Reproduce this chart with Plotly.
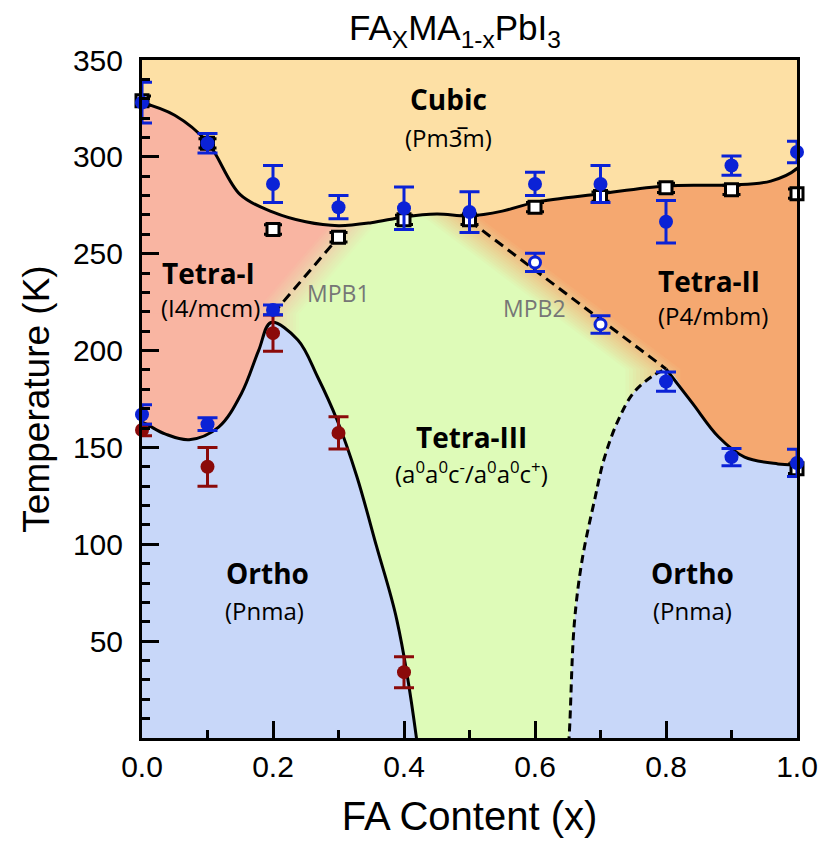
import plotly.graph_objects as go

# ---------------- phase-boundary control points (x = FA fraction, T in K) ----------------
top_x = [-0.05, 0.0, 0.05, 0.10, 0.15, 0.20, 0.25, 0.30, 0.35, 0.40, 0.45, 0.50, 0.55, 0.60, 0.70, 0.80, 0.90, 0.96, 1.0, 1.03]
top_T = [331, 328, 321.5, 307.5, 280.5, 271.5, 266.5, 264.5, 266, 269, 270.5, 269.5, 272, 276.5, 281, 285, 285.5, 287.5, 294, 310]

lowL_x = [-0.05, 0.0, 0.035, 0.072, 0.117, 0.152, 0.178, 0.197, 0.238, 0.268, 0.298, 0.328, 0.358, 0.389, 0.419, 0.425]
lowL_T = [168, 163, 157, 154, 160.5, 178, 200, 214.5, 205.5, 186.5, 164, 135, 99, 61, 0, -20]

rdash_x = [0.645, 0.652, 0.660, 0.672, 0.692, 0.705, 0.725, 0.750, 0.780, 0.800]
rdash_T = [-30, 0, 59, 92, 124.5, 143.5, 162.5, 178, 187, 190.5]

rlow_x = [0.800, 0.840, 0.880, 0.920, 0.971, 1.000, 1.030]
rlow_T = [190.5, 173, 155.5, 145, 141.5, 141, 141]

mpb1_x = [0.2, 0.3]
mpb1_T = [219, 258.5]
mpb2_x = [0.5, 0.8]
mpb2_T = [267, 190.5]

# ---------------- measured transition temperatures ----------------
sq_x = [0.0, 0.1, 0.2, 0.3, 0.4, 0.5, 0.6, 0.7, 0.8, 0.9, 1.0, 1.0]
sq_T = [329, 307, 262.5, 258.5, 267.5, 267.5, 274, 279.5, 284, 283, 281, 139]

blue_x = [0.0, 0.1, 0.2, 0.3, 0.4, 0.5, 0.6, 0.7, 0.8, 0.9, 1.0, 0.0, 0.1, 0.2, 0.8, 0.9, 1.0]
blue_T = [328, 307, 286, 274, 273.5, 271.5, 286, 286, 266.5, 295.5, 302.5, 167, 162, 221, 184, 145, 142]
blue_err = [10.5, 5, 9.5, 6, 11, 10.5, 6, 9.5, 11, 5, 5.5, 5, 3.3, 2.5, 5, 4.5, 7]

open_x = [0.6, 0.7]
open_T = [245.5, 213.5]
open_err = [4.7, 4.5]

red_x = [0.0, 0.1, 0.2, 0.3, 0.4]
red_T = [159, 140, 209, 157.5, 34]
red_err = [3, 10, 9.3, 8.3, 8]

# ---------------- phase labels ----------------
phase_names = ["Cubic", "Tetra-I", "Tetra-II", "Tetra-III", "Ortho", "Ortho"]
phase_groups = ["(Pm3\u0305m)", "(I4/mcm)", "(P4/mbm)",
                "(a<sup>0</sup>a<sup>0</sup>c<sup>-</sup>/a<sup>0</sup>a<sup>0</sup>c<sup>+</sup>)",
                "(Pnma)", "(Pnma)"]
name_x = [0.468, 0.102, 0.866, 0.503, 0.192, 0.84]
name_T = [330, 240, 236, 155.5, 85, 85]
group_x = [0.468, 0.105, 0.872, 0.503, 0.187, 0.84]
group_T = [310, 222, 218, 137, 66, 66]
mpb_names = ["MPB1", "MPB2"]
mpb_lx = [0.30, 0.599]
mpb_lT = [229.7, 222]

# phase colours
C_CUBIC = (253, 224, 165)
C_TET1 = (249, 181, 162)
C_TET2 = (245, 168, 112)
C_TET3 = (222, 251, 184)
C_ORTHO = (200, 215, 249)


def rgb(c):
    return "rgb(%d,%d,%d)" % c


def mix(c1, c2, t):
    return "rgb(%d,%d,%d)" % tuple(round(a + (b - a) * t) for a, b in zip(c1, c2))


fig = go.Figure()


def add_fill(xs, ys, color, shape="linear"):
    fig.add_trace(go.Scatter(x=xs, y=ys, mode="lines", fill="toself", fillcolor=color,
                             line=dict(width=0, shape=shape), hoverinfo="skip", showlegend=False))


# Tetra-I region, blended into Tetra-III across MPB1
N = 16
ax, aT = mpb1_x[0], mpb1_T[0]
k1 = (mpb1_T[1] - mpb1_T[0]) / (mpb1_x[1] - mpb1_x[0])
x_top1 = ax + (400 - aT) / k1
c1, hw1 = 0.005, 0.035
for i in range(N):
    s = c1 + hw1 * (1 - 2 * i / (N - 1))
    add_fill([-0.2, x_top1 + s, ax + s, ax + s, -0.2], [400, 400, aT, -40, -40],
             mix(C_TET3, C_TET1, (i + 1) / N))
add_fill([-0.2, ax, ax, -0.2], [aT, aT, -40, -40], rgb(C_TET1))

# Tetra-II region, blended into Tetra-III across MPB2
cx, cT = mpb2_x[0], mpb2_T[0]
dx, dT = mpb2_x[1], mpb2_T[1]
k2 = (dT - cT) / (dx - cx)
x_top2 = cx + (400 - cT) / k2
c2, hw2 = -0.02, 0.042
for i in range(N):
    s = c2 - hw2 * (1 - 2 * i / (N - 1))
    add_fill([x_top2 + s, 1.2, 1.2, dx + s, dx + s], [400, 400, -40, -40, dT],
             mix(C_TET3, C_TET2, (i + 1) / N))

# Cubic region above the upper boundary
add_fill(top_x + [1.1, -0.1], top_T + [400, 400], rgb(C_CUBIC), "spline")

# Orthorhombic regions
add_fill(lowL_x + [-0.1], lowL_T + [-40], rgb(C_ORTHO), "spline")
add_fill(rdash_x + rlow_x[1:] + [1.1, 1.1], rdash_T + rlow_T[1:] + [141, -40], rgb(C_ORTHO), "spline")


# boundary lines
def add_line(xs, ys, dash="solid", shape="spline"):
    fig.add_trace(go.Scatter(x=xs, y=ys, mode="lines",
                             line=dict(color="black", width=3, shape=shape, dash=dash),
                             hoverinfo="skip", showlegend=False))


add_line(top_x, top_T)
add_line(lowL_x, lowL_T)
add_line(rlow_x, rlow_T)
add_line(rdash_x, rdash_T, dash="8px,5px")
add_line(mpb1_x, mpb1_T, dash="10px,6px", shape="linear")
add_line(mpb2_x, mpb2_T, dash="10px,6px", shape="linear")

BLUE = "#0b22d6"
RED = "#8b0a0a"

# open squares (black)
fig.add_trace(go.Scatter(
    x=sq_x, y=sq_T, mode="markers", cliponaxis=False, showlegend=False,
    marker=dict(symbol="square", size=12, color="white", line=dict(color="black", width=3)),
    error_y=dict(type="constant", value=2.4, color="black", thickness=3, width=9)))

# red circles
fig.add_trace(go.Scatter(
    x=red_x, y=red_T, mode="markers", cliponaxis=False, showlegend=False,
    marker=dict(symbol="circle", size=14, color=RED),
    error_y=dict(type="data", array=red_err, color=RED, thickness=3, width=10)))

# open blue circles
fig.add_trace(go.Scatter(
    x=open_x, y=open_T, mode="markers", cliponaxis=False, showlegend=False,
    marker=dict(symbol="circle", size=11, color="white", line=dict(color=BLUE, width=3)),
    error_y=dict(type="data", array=open_err, color=BLUE, thickness=3, width=10)))

# filled blue circles
fig.add_trace(go.Scatter(
    x=blue_x, y=blue_T, mode="markers", cliponaxis=False, showlegend=False,
    marker=dict(symbol="circle", size=14, color=BLUE),
    error_y=dict(type="data", array=blue_err, color=BLUE, thickness=3, width=10)))

LABEL_FONT = "Open Sans, Noto Sans, sans-serif"
annotations = []
for nm, x, t in zip(phase_names, name_x, name_T):
    annotations.append(dict(x=x, y=t, xref="x", yref="y", text="<b>%s</b>" % nm, showarrow=False,
                            font=dict(family=LABEL_FONT, size=28, color="black")))
for g, x, t in zip(phase_groups, group_x, group_T):
    annotations.append(dict(x=x, y=t, xref="x", yref="y", text=g, showarrow=False,
                            font=dict(family=LABEL_FONT, size=24, color="black")))
for m, x, t in zip(mpb_names, mpb_lx, mpb_lT):
    annotations.append(dict(x=x, y=t, xref="x", yref="y", text=m, showarrow=False,
                            font=dict(family=LABEL_FONT, size=23, color="#767676")))

NARROW = "Liberation Sans Narrow, Arial Narrow, Liberation Sans, Arial, sans-serif"
SANS = "Liberation Sans, Arial, sans-serif"
fig.update_layout(
    width=830, height=847,
    margin=dict(l=142, r=24, t=60, b=109),
    paper_bgcolor="white",
    plot_bgcolor=rgb(C_TET3),
    showlegend=False,
    title=dict(text="FA<sub>X</sub>MA<sub>1-x</sub>PbI<sub>3</sub>",
               x=455 / 830, xanchor="center", xref="container", yref="container", y=0.967, yanchor="middle",
               font=dict(family=NARROW, size=35, color="black")),
    annotations=annotations,
    xaxis=dict(
        range=[0, 1], tickvals=[0, 0.2, 0.4, 0.6, 0.8, 1.0],
        ticktext=["0.0", "0.2", "0.4", "0.6", "0.8", "1.0"],
        ticks="inside", ticklen=17, tickwidth=3, tickcolor="black",
        minor=dict(dtick=0.1, tick0=0, ticks="inside", ticklen=8, tickwidth=3, tickcolor="black"),
        showline=True, linewidth=3, linecolor="black", mirror=True,
        showgrid=False, zeroline=False,
        tickfont=dict(family=NARROW, size=30, color="black"),
        title=dict(text="FA Content (x)", font=dict(family=SANS, size=40, color="black"),
                   standoff=20),
    ),
    yaxis=dict(
        range=[0, 350], tickvals=[50, 100, 150, 200, 250, 300, 350],
        ticks="inside", ticklen=17, tickwidth=3, tickcolor="black",
        minor=dict(dtick=10, tick0=0, ticks="inside", ticklen=8, tickwidth=3, tickcolor="black"),
        showline=True, linewidth=3, linecolor="black", mirror=True,
        showgrid=False, zeroline=False,
        ticklabelstandoff=10,
        tickfont=dict(family=SANS, size=30, color="black"),
        title=dict(text="Temperature (K)", font=dict(family=SANS, size=37, color="black"),
                   standoff=12),
    ),
)

fig.write_html("out.html")
